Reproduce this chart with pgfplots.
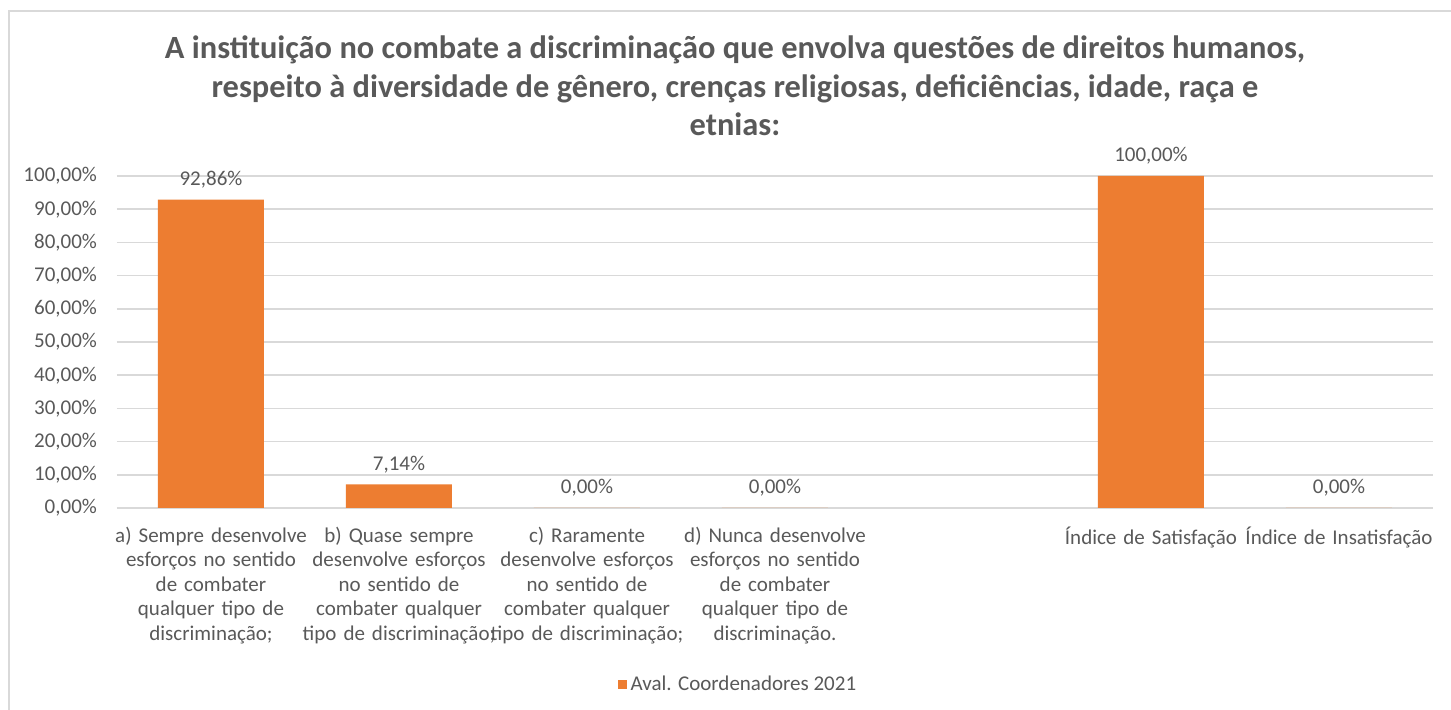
\documentclass[border=0pt]{standalone}
\usepackage{fontspec}
\setmainfont{Carlito}
\usepackage{pgfplots}
\pgfplotsset{compat=1.18}
\definecolor{barorange}{HTML}{ED7D31}
\definecolor{txtgray}{HTML}{595959}
\definecolor{gridgray}{HTML}{D9D9D9}
\begin{document}
\begin{tikzpicture}
\useasboundingbox (0pt,0pt) rectangle (725.5pt,355pt);
\fill[white] (0pt,0pt) rectangle (725.5pt,355pt);
% chart frame (only left and top visible)
\draw[gridgray, line width=0.9pt] (4.5pt,0pt) -- (4.5pt,349.5pt) -- (725.5pt,349.5pt);
% title
\begin{scope}[every node/.style={anchor=base, text=txtgray, font=\fontsize{16.2}{18.5}\selectfont\bfseries}]
\node at (367.5pt,325.5pt) {A instituição no combate a discriminação que envolva questões de direitos humanos,};
\node at (367.5pt,306.25pt) {respeito à diversidade de gênero, crenças religiosas, deficiências, idade, raça e};
\node at (367.5pt,287pt) {etnias:};
\end{scope}
\begin{axis}[
    at={(58.5pt,101pt)}, anchor=south west,
    scale only axis,
    width=658pt, height=166pt,
    xmin=-0.5, xmax=6.5,
    ymin=0, ymax=100,
    ytick={0,10,...,100},
    xtick={0,1,2,3,4,5,6},
    xticklabels={
        {a) Sempre desenvolve\\esforços no sentido\\de combater\\qualquer tipo de\\discriminação;},
        {b) Quase sempre\\desenvolve esforços\\no sentido de\\combater qualquer\\tipo de discriminação;},
        {c) Raramente\\desenvolve esforços\\no sentido de\\combater qualquer\\tipo de discriminação;},
        {d) Nunca desenvolve\\esforços no sentido\\de combater\\qualquer tipo de\\discriminação.},
        {},
        {Índice de Satisfação},
        {Índice de Insatisfação}},
    major tick length=0pt,
    axis line style={draw=none},
    ymajorgrids,
    major grid style={gridgray, line width=0.75pt},
    /pgf/number format/assume math mode=true,
    yticklabel={\pgfmathprintnumber[fixed,fixed zerofill,precision=2,use comma]{\tick}\%},
    yticklabel style={text=txtgray, font=\fontsize{10.5}{12}\selectfont, xshift=-6.5pt},
    xticklabel style={text=txtgray, font=\fontsize{10.5}{12.25}\selectfont, align=center, text width=110pt, anchor=north, yshift=-6pt},
    ybar, bar width=53pt,
    nodes near coords={\pgfmathprintnumber[fixed,fixed zerofill,precision=2,use comma]{\pgfplotspointmeta}\%},
    every node near coord/.append style={text=txtgray, font=\fontsize{10.5}{12}\selectfont, anchor=center, yshift=10pt},
    legend style={at={(0.4726,-0.533)}, anchor=center, draw=none, fill=none,
        font=\fontsize{10.5}{12}\selectfont, text=txtgray, legend cell align=left,
        /tikz/every even column/.append style={column sep=2pt}},
    legend image code/.code={\fill[barorange] (0pt,-2.25pt) rectangle (4.5pt,2.25pt);},
]
\addplot[fill=barorange, draw=none] coordinates {
    (0,92.86) (1,7.14) (2,0) (3,0) (5,100) (6,0)
};
\addlegendentry{Aval. Coordenadores 2021}
\end{axis}
\end{tikzpicture}
\end{document}
